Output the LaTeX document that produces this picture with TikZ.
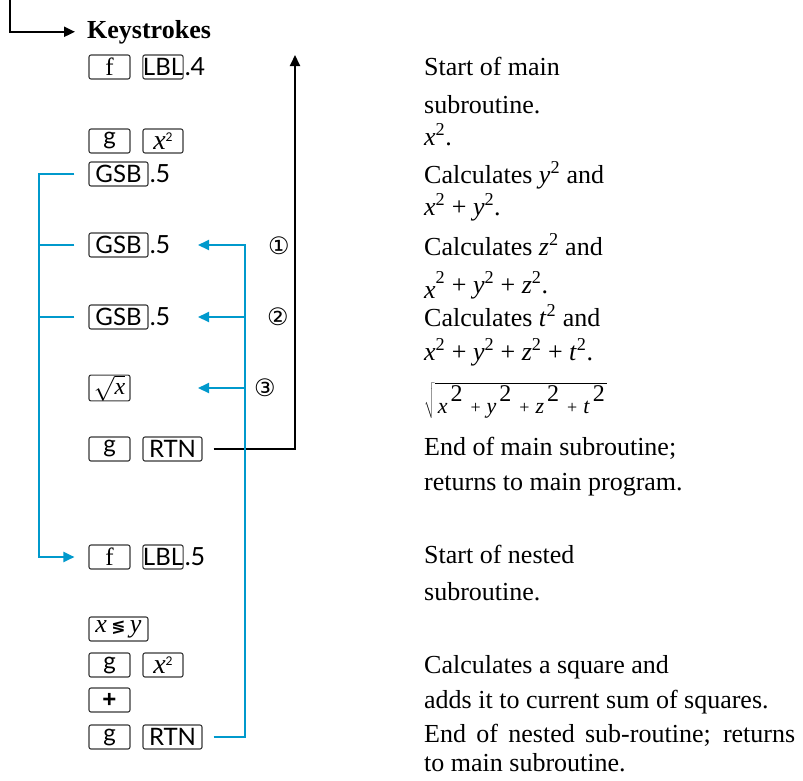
\documentclass[tikz,border=0pt]{standalone}
\usepackage{fontspec}
\setmainfont{Liberation Serif}
\newfontfamily\keyfont{Lato}
\newfontfamily\symfont{DejaVu Sans}
\newfontfamily\plusfont{Liberation Sans}
\usetikzlibrary{arrows.meta}
\definecolor{blueln}{RGB}{0,153,204}
\definecolor{keyedge}{RGB}{55,55,55}
\newcommand\sq[1]{\textit{#1}\textsuperscript{2}}
\newcommand\sqterm[1]{{\fontsize{22}{22}\selectfont\textit{#1}}\hspace{3pt}\raisebox{12pt}{\fontsize{24}{24}\selectfont 2}}
\newcommand\smallplus{\hspace{8pt}{\fontsize{18}{18}\selectfont +}\hspace{6pt}}
\newcommand\keysq{{\rmfamily\fontsize{28}{28}\selectfont\textit{x}}\raisebox{8pt}{\keyfont\fontsize{12}{12}\selectfont 2}}
\begin{document}
\begin{tikzpicture}[x=1pt,y=-1pt,
  key/.style={draw=keyedge,line width=1.1pt,rounded corners=2pt,minimum height=24pt,inner sep=0pt,font=\keyfont\fontsize{24}{24}\selectfont},
  narrowkey/.style={key,minimum width=41pt},
  midkey/.style={key,minimum width=40pt},
  widekey/.style={key,minimum width=59pt},
  desc/.style={anchor=base west,inner sep=0pt,font=\fontsize{26}{30}\selectfont},
  sfx/.style={anchor=west,inner sep=0pt,xshift=1pt,font=\keyfont\fontsize{25}{25}\selectfont},
  bl/.style={draw=blueln,line width=2pt},
  bk/.style={draw=black,line width=2pt},
  tip/.style={-{Triangle[length=11pt,width=10pt]}},
  num/.style={font=\symfont\fontsize{24}{24}\selectfont,inner sep=0pt}
]
\useasboundingbox (0,0) rectangle (803,780);

% heading
\node[font=\bfseries\fontsize{26}{30}\selectfont,anchor=base west,inner sep=0pt] (kh) at (87,38) {Keystrokes};

% key column
\node[narrowkey] (f1) at (109.5,67) {\rmfamily\fontsize{25}{25}\selectfont f};
\node[midkey] (lbl1) at (163,67) {LBL};
\node[sfx] (d4) at (lbl1.east) {.4};

\node[narrowkey] (g1) at (109.5,141) {g};
\node[midkey] (xa) at (163,141) {\keysq};

\node[widekey] (gsb1) at (118.5,174) {GSB};
\node[sfx] (d5a) at (gsb1.east) {.5};
\node[widekey] (gsb2) at (118.5,245) {GSB};
\node[sfx] (d5b) at (gsb2.east) {.5};
\node[widekey] (gsb3) at (118.5,317) {GSB};
\node[sfx] (d5c) at (gsb3.east) {.5};

\node[narrowkey] (sq) at (109.5,388) {\rmfamily\fontsize{24}{24}\selectfont$\sqrt{\textit{x}}$};

\node[narrowkey] (g2) at (109.5,449) {g};
\node[widekey] (rtn1) at (172.5,449) {RTN};

\node[narrowkey] (f2) at (109.5,557) {\rmfamily\fontsize{25}{25}\selectfont f};
\node[midkey] (lbl2) at (163,557) {LBL};
\node[sfx] (d5d) at (lbl2.east) {.5};

\node[widekey] (xy) at (118.5,629) {\rmfamily\fontsize{26}{26}\selectfont\textit{x}\,{\symfont\bfseries\fontsize{17}{17}\selectfont ≶}\,\textit{y}};
\node[narrowkey] (g3) at (109.5,665) {g};
\node[midkey] (xb) at (163,665) {\keysq};
\node[narrowkey] (pl) at (109.5,700) {\plusfont\bfseries\fontsize{24}{24}\selectfont +};
\node[narrowkey] (g4) at (109.5,737) {g};
\node[widekey] (rtn2) at (172.5,737) {RTN};

% circled numbers
\node[num] (n1) at (279,246) {①};
\node[num] (n2) at (278,317) {②};
\node[num] (n3) at (265,388) {③};

% descriptions
\node[desc] (t1) at (424,75) {Start of main};
\node[desc] (t2) at (424,113) {subroutine.};
\node[desc] (t3) at (424,145) {\sq{x}.};
\node[desc] (t4) at (424,183) {Calculates \sq{y} and};
\node[desc] (t5) at (424,215) {\sq{x} + \sq{y}.};
\node[desc] (t6) at (424,255) {Calculates \sq{z} and};
\node[desc] (t7) at (424,293) {\raisebox{-5pt}{\textit{x}}\textsuperscript{2} + \sq{y} + \sq{z}.};
\node[desc] (t8) at (424,326) {Calculates \sq{t} and};
\node[desc] (t9) at (424,360) {\sq{x} + \sq{y} + \sq{z} + \sq{t}.};
\node[desc] (t10) at (424,413) {$\sqrt{\hbox{\hspace{3pt}\sqterm{x}\smallplus\sqterm{y}\smallplus\sqterm{z}\smallplus\sqterm{t}\hspace{2pt}}}$};
\node[desc] (t11) at (424,455) {End of main subroutine;};
\node[desc] (t12) at (424,490) {returns to main program.};
\node[desc] (t13) at (424,563) {Start of nested};
\node[desc] (t14) at (424,600) {subroutine.};
\node[desc] (t15) at (424,673) {Calculates a square and};
\node[desc] (t16) at (424,708) {adds it to current sum of squares.};
\node[desc] (t17) at (424,742) {\makebox[371pt][s]{End of nested sub-routine; returns}};
\node[desc] (t18) at (424,771) {to main subroutine.};

% black connectors
\coordinate (tl) at (10,0);
\draw[bk,tip] (tl) |- ([xshift=-12pt]kh.west);
\coordinate (upt) at (295,55);
\draw[bk,tip] ([xshift=11pt]rtn1.east) -| (upt);

% blue connectors (left)
\coordinate (bx) at (39,174);
\draw[bl,tip] ([xshift=-14pt]gsb1.west) -- (bx) |- ([xshift=-14pt]f2.west);
\draw[bl] ([xshift=-14pt]gsb2.west) -- (gsb2.west -| bx);
\draw[bl] ([xshift=-14pt]gsb3.west) -- (gsb3.west -| bx);

% blue connectors (right)
\coordinate (rx) at (245,245);
\coordinate (a1) at (198,245);
\coordinate (a2) at (198,317);
\coordinate (a3) at (198,388);
\draw[bl,tip] ([xshift=11pt]rtn2.east) -| (rx) -- (a1);
\draw[bl,tip] (a2 -| rx) -- (a2);
\draw[bl,tip] (a3 -| rx) -- (a3);
\end{tikzpicture}
\end{document}
